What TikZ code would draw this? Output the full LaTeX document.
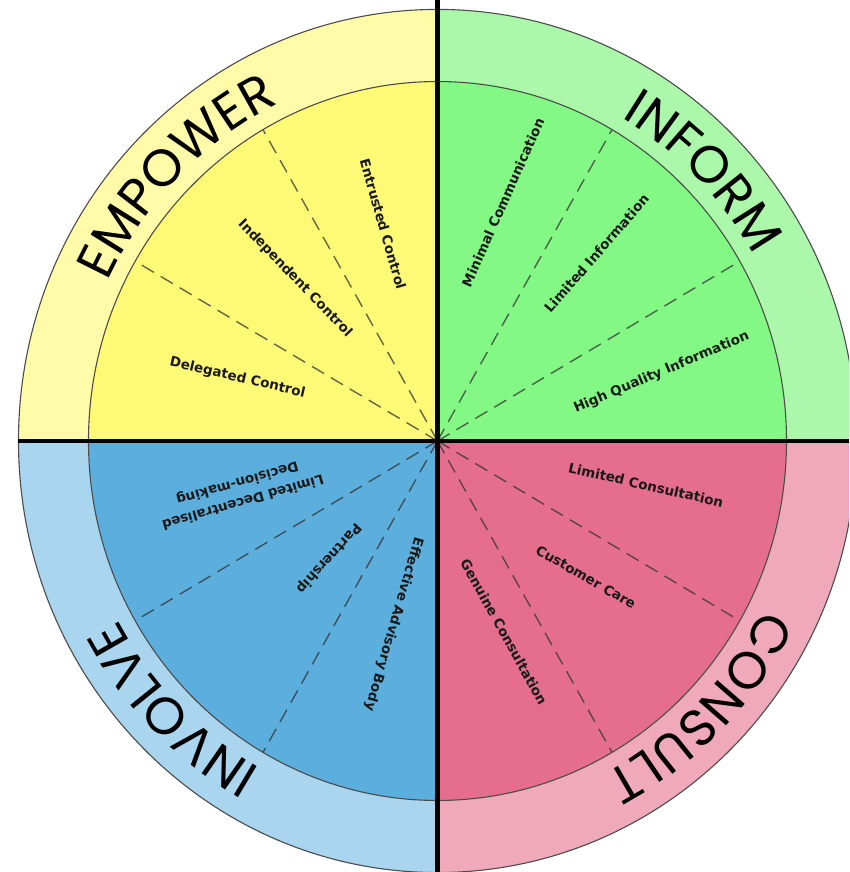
\documentclass[tikz,border=0pt]{standalone}
\usepackage{fontspec}
\setmainfont{DejaVu Sans}
\newfontfamily\bigfont{Poppins}
\usetikzlibrary{decorations.text}
\definecolor{colYring}{HTML}{FFFBA8}
\definecolor{colYin}{HTML}{FFFA76}
\definecolor{colGring}{HTML}{ABF8AB}
\definecolor{colGin}{HTML}{84F884}
\definecolor{colBring}{HTML}{A9D5EE}
\definecolor{colBin}{HTML}{5CAEDD}
\definecolor{colPring}{HTML}{F0A9BA}
\definecolor{colPin}{HTML}{E56E8E}
\tikzset{
  lab/.style={font=\fontsize{13.5}{19.5}\selectfont\bfseries, text=black!90, inner sep=0pt, align=center},
  dashline/.style={draw=black!80, line width=1.4pt, dash pattern=on 14pt off 8pt, opacity=0.75},
  outline/.style={draw=black!70, line width=1.1pt},
  divider/.style={line width=4.5pt, draw=black},
}
\newcommand\quadfill[4]{%
  \fill[#3] (0,0) -- (#1:419) arc[start angle=#1, end angle=#2, radius=419] -- cycle;
  \fill[#4] (0,0) -- (#1:349) arc[start angle=#1, end angle=#2, radius=349] -- cycle;
}
\newcommand\ringword[3]{%
  \path[decorate, decoration={text along path, text align=center,
    text={|\bigfont\fontsize{52}{52}\selectfont|#3}}]
    (#1:364) arc[start angle=#1, end angle=#2, radius=364];
}
\begin{document}
\begin{tikzpicture}[x=1pt,y=1pt]
\clip (-437.5,-431) rectangle (411.5,441);
\fill[white] (-437.5,-431) rectangle (411.5,441);
\begin{scope}[yscale=1.03]
  \quadfill{180}{90}{colYring}{colYin}
  \quadfill{90}{0}{colGring}{colGin}
  \quadfill{270}{180}{colBring}{colBin}
  \quadfill{360}{270}{colPring}{colPin}
  \draw[outline] (0,0) circle[radius=419];
  \draw[outline] (0,0) circle[radius=349];
  \foreach \a in {30,60,120,150,210,240,300,330}
    \draw[dashline] (0,0) -- (\a:349);
  \ringword{180}{90}{EMPOWER}
  \ringword{90}{0}{INFORM}
  \ringword{270}{180}{INVOLVE}
  \ringword{360}{270}{CONSULT}
\end{scope}
\coordinate (top) at (0,441);
\coordinate (bot) at (0,-431);
\coordinate (lft) at (-419,0);
\coordinate (rgt) at (411.5,0);
\draw[divider] (top) -- (bot);
\draw[divider] (lft) -- (rgt);
% Empower
\node[lab, rotate=-74] (e1) at (-54.5,217) {Entrusted Control};
\node[lab, rotate=-46] (e2) at (-142.5,162.5) {Independent Control};
\node[lab, rotate=-13] (e3) at (-200,63) {Delegated Control};
% Inform
\node[lab, rotate=66] (i1) at (65.5,238.5) {Minimal Communication};
\node[lab, rotate=49] (i2) at (159,187.5) {Limited Information};
\node[lab, rotate=23] (i3) at (224,68.5) {High Quality Information};
% Involve
\node[lab, rotate=196] (v1) at (-197.5,-51) {Limited Decentralised\\Decision-making};
\node[lab, rotate=228] (v2) at (-109,-117) {Partnership};
\node[lab, rotate=254] (v3) at (-44,-183) {Effective Advisory Body};
% Consult
\node[lab, rotate=-13] (c1) at (208.5,-44) {Limited Consultation};
\node[lab, rotate=-30] (c2) at (148.5,-136) {Customer Care};
\node[lab, rotate=-61] (c3) at (66.5,-191) {Genuine Consultation};
\end{tikzpicture}
\end{document}
